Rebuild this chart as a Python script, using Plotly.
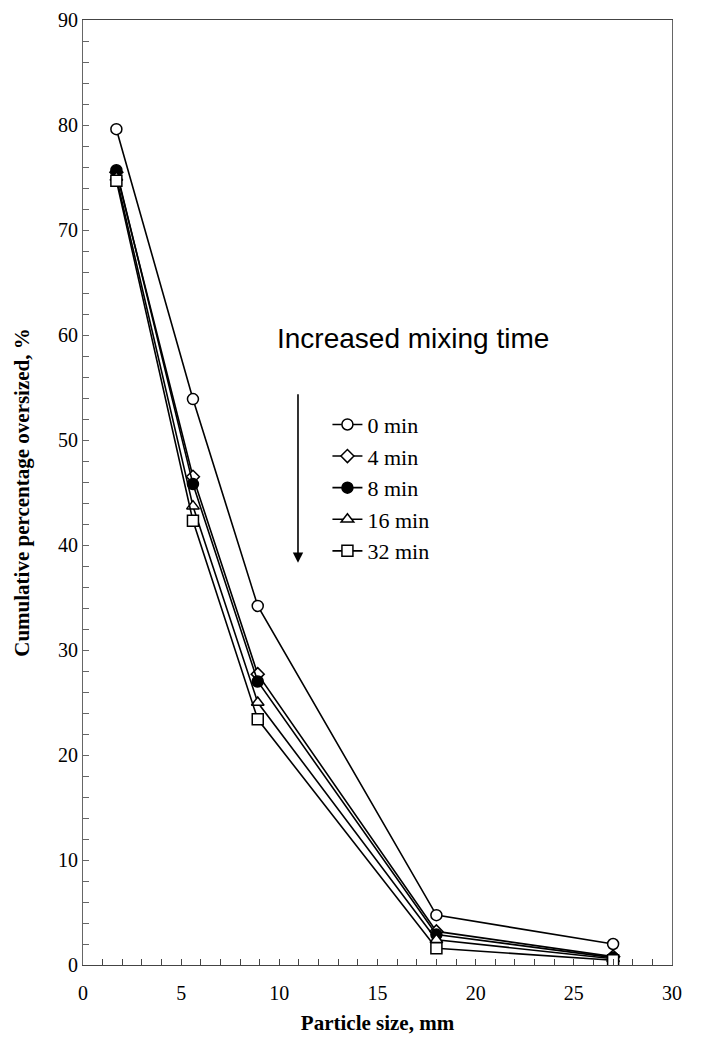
import plotly.graph_objects as go

sizes = [1.7, 5.6, 8.9, 18.0, 27.0]
min0 = [79.6, 53.9, 34.2, 4.75, 2.0]
min4 = [75.5, 46.5, 27.7, 3.2, 0.8]
min8 = [75.7, 45.8, 27.0, 2.9, 0.7]
min16 = [75.0, 43.7, 25.0, 2.4, 0.6]
min32 = [74.7, 42.3, 23.4, 1.6, 0.45]
names = ["0 min", "4 min", "8 min", "16 min", "32 min"]
symbols = ["circle-open", "diamond-open", "circle", "triangle-up-open", "square-open"]

fig = go.Figure()
for name, vals, sym in zip(names, [min0, min4, min8, min16, min32], symbols):
    fill = "black" if sym == "circle" else "white"
    s = sym.replace("-open", "")
    fig.add_trace(go.Scatter(
        x=sizes, y=vals, name=name, mode="lines+markers",
        line=dict(color="black", width=1.6),
        marker=dict(symbol=s, size=11 if s != "diamond" else 10, color=fill,
                    line=dict(color="black", width=1.5)),
    ))

fig.add_annotation(x=16.8, y=59.7, text="Increased mixing time", showarrow=False,
                   font=dict(family="Liberation Sans, Arial", size=28, color="black"))
fig.add_annotation(x=10.95, y=38.3, ax=10.95, ay=54.5, axref="x", ayref="y",
                   xref="x", yref="y", text="", showarrow=True,
                   arrowhead=2, arrowsize=1.3, arrowwidth=1.6, arrowcolor="black")

axis_font = dict(family="Liberation Serif, Times New Roman", size=20, color="black")
fig.update_layout(
    width=686, height=1030,
    margin=dict(l=75, r=22, t=12, b=73),
    paper_bgcolor="white", plot_bgcolor="white",
    font=dict(family="Liberation Serif, Times New Roman", size=19, color="black"),
    showlegend=True,
    legend=dict(x=0.415, y=0.594, xanchor="left", yanchor="top",
                bgcolor="rgba(0,0,0,0)", font=dict(size=22),
                tracegroupgap=0, itemwidth=30),
    xaxis=dict(range=[0, 30], dtick=5, showgrid=False, zeroline=False, automargin=False,
               showline=True, linecolor="#444", linewidth=1.2, mirror=True,
               ticks="inside", ticklen=6, tickcolor="#444", tickfont=axis_font,
               ticklabelstandoff=10, ticklabeloverflow="allow",
               minor=dict(dtick=1, ticks="inside", ticklen=6, tickcolor="#444"),
               title=dict(text="<b>Particle size, mm</b>", font=dict(size=21), standoff=12)),
    yaxis=dict(range=[0, 90], dtick=10, showgrid=False, zeroline=False, automargin=False,
               showline=True, linecolor="#666", linewidth=1.2, mirror=True,
               ticks="inside", ticklen=6, tickcolor="#666", tickfont=axis_font,
               ticklabeloverflow="allow",
               minor=dict(dtick=2, ticks="inside", ticklen=6, tickcolor="#666"),
               title=dict(text="<b>Cumulative percentage oversized, %</b>", font=dict(size=21), standoff=22)),
)

fig.write_html("out.html")
